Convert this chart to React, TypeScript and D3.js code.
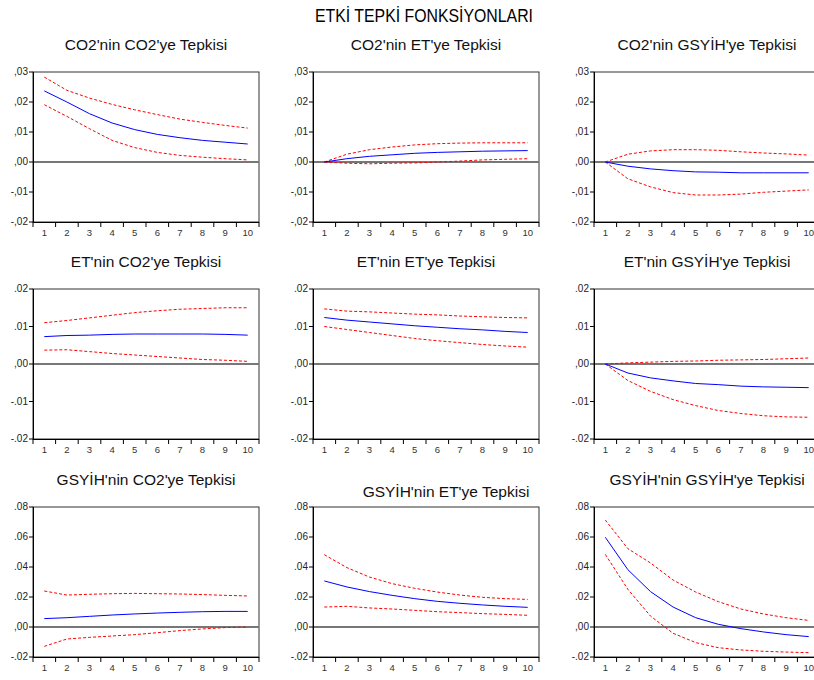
import React from 'react';
import * as d3 from 'd3';

// periods on the x axis
const periods = [1, 2, 3, 4, 5, 6, 7, 8, 9, 10];

// row 1: CO2 responses
const co2Co2Resp = [0.0237, 0.0200, 0.0161, 0.0130, 0.0108, 0.0092, 0.0081, 0.0072, 0.0066, 0.0060];
const co2Co2Upper = [0.0283, 0.0239, 0.0213, 0.0192, 0.0174, 0.0158, 0.0143, 0.0132, 0.0122, 0.0113];
const co2Co2Lower = [0.0191, 0.0152, 0.0111, 0.0072, 0.0048, 0.0032, 0.0022, 0.0016, 0.0011, 0.0007];

const co2EtResp = [0.0000, 0.0011, 0.0019, 0.0024, 0.0029, 0.0032, 0.0034, 0.0036, 0.0037, 0.0038];
const co2EtUpper = [0.0000, 0.0026, 0.0041, 0.0050, 0.0057, 0.0061, 0.0063, 0.0064, 0.0064, 0.0064];
const co2EtLower = [0.0000, -0.0004, -0.0006, -0.0004, -0.0003, 0.0000, 0.0003, 0.0007, 0.0009, 0.0011];

const co2GdpResp = [0.0000, -0.0014, -0.0023, -0.0029, -0.0033, -0.0034, -0.0036, -0.0036, -0.0036, -0.0036];
const co2GdpUpper = [0.0000, 0.0026, 0.0037, 0.0041, 0.0041, 0.0039, 0.0034, 0.0030, 0.0027, 0.0023];
const co2GdpLower = [0.0000, -0.0056, -0.0083, -0.0102, -0.0110, -0.0110, -0.0107, -0.0101, -0.0097, -0.0093];

// row 2: ET responses
const etCo2Resp = [0.0073, 0.0076, 0.0077, 0.0079, 0.0080, 0.0080, 0.0080, 0.0080, 0.0079, 0.0077];
const etCo2Upper = [0.0110, 0.0116, 0.0123, 0.0130, 0.0137, 0.0142, 0.0146, 0.0148, 0.0150, 0.0150];
const etCo2Lower = [0.0037, 0.0038, 0.0033, 0.0028, 0.0024, 0.0020, 0.0016, 0.0012, 0.0010, 0.0007];

const etEtResp = [0.0124, 0.0117, 0.0112, 0.0107, 0.0102, 0.0098, 0.0094, 0.0091, 0.0087, 0.0084];
const etEtUpper = [0.0147, 0.0141, 0.0139, 0.0136, 0.0133, 0.0131, 0.0128, 0.0126, 0.0124, 0.0123];
const etEtLower = [0.0100, 0.0092, 0.0084, 0.0076, 0.0068, 0.0062, 0.0057, 0.0052, 0.0048, 0.0045];

const etGdpResp = [0.0000, -0.0024, -0.0037, -0.0045, -0.0052, -0.0055, -0.0059, -0.0061, -0.0062, -0.0063];
const etGdpUpper = [0.0000, 0.0003, 0.0005, 0.0007, 0.0008, 0.0010, 0.0011, 0.0012, 0.0014, 0.0016];
const etGdpLower = [0.0000, -0.0044, -0.0073, -0.0095, -0.0111, -0.0124, -0.0132, -0.0138, -0.0141, -0.0142];

// row 3: GSYİH responses
const gdpCo2Resp = [0.0056, 0.0062, 0.0071, 0.0080, 0.0087, 0.0093, 0.0098, 0.0102, 0.0104, 0.0104];
const gdpCo2Upper = [0.0240, 0.0213, 0.0218, 0.0222, 0.0224, 0.0222, 0.0220, 0.0216, 0.0211, 0.0207];
const gdpCo2Lower = [-0.0129, -0.0080, -0.0069, -0.0060, -0.0051, -0.0038, -0.0024, -0.0013, -0.0004, 0.0000];

const gdpEtResp = [0.0307, 0.0267, 0.0236, 0.0211, 0.0189, 0.0171, 0.0158, 0.0147, 0.0138, 0.0131];
const gdpEtUpper = [0.0482, 0.0396, 0.0333, 0.0289, 0.0258, 0.0233, 0.0213, 0.0198, 0.0189, 0.0184];
const gdpEtLower = [0.0133, 0.0138, 0.0127, 0.0120, 0.0111, 0.0102, 0.0096, 0.0089, 0.0084, 0.0078];

const gdpGdpResp = [0.0598, 0.0382, 0.0236, 0.0133, 0.0062, 0.0018, -0.0011, -0.0033, -0.0051, -0.0064];
const gdpGdpUpper = [0.0713, 0.0522, 0.0427, 0.0313, 0.0233, 0.0169, 0.0120, 0.0087, 0.0062, 0.0044];
const gdpGdpLower = [0.0484, 0.0251, 0.0073, -0.0042, -0.0104, -0.0138, -0.0153, -0.0162, -0.0167, -0.0171];

// y ticks per row
const row1Ticks = [0.03, 0.02, 0.01, 0, -0.01, -0.02];
const row1TickLabels = [',03', ',02', ',01', ',00', '-,01', '-,02'];
const row2Ticks = [0.02, 0.01, 0, -0.01, -0.02];
const row2TickLabels = ['.02', '.01', ',00', '-.01', '-.02'];
const row3Ticks = [0.08, 0.06, 0.04, 0.02, 0, -0.02];
const row3TickLabels = ['.08', '.06', '.04', '.02', ',00', '-.02'];

const titles = [
  "CO2'nin CO2'ye Tepkisi", "CO2'nin ET'ye Tepkisi", "CO2'nin GSYİH'ye Tepkisi",
  "ET'nin CO2'ye Tepkisi", "ET'nin ET'ye Tepkisi", "ET'nin GSYİH'ye Tepkisi",
  "GSYİH'nin CO2'ye Tepkisi", "GSYİH'nin ET'ye Tepkisi", "GSYİH'nin GSYİH'ye Tepkisi",
];

const rows = [
  { ticks: row1Ticks, labels: row1TickLabels, domain: [-0.02, 0.03] },
  { ticks: row2Ticks, labels: row2TickLabels, domain: [-0.02, 0.02] },
  { ticks: row3Ticks, labels: row3TickLabels, domain: [-0.02, 0.08] },
];

const series = [
  [co2Co2Resp, co2Co2Upper, co2Co2Lower],
  [co2EtResp, co2EtUpper, co2EtLower],
  [co2GdpResp, co2GdpUpper, co2GdpLower],
  [etCo2Resp, etCo2Upper, etCo2Lower],
  [etEtResp, etEtUpper, etEtLower],
  [etGdpResp, etGdpUpper, etGdpLower],
  [gdpCo2Resp, gdpCo2Upper, gdpCo2Lower],
  [gdpEtResp, gdpEtUpper, gdpEtLower],
  [gdpGdpResp, gdpGdpUpper, gdpGdpLower],
];

const W = 814;
const H = 680;
const colX = [33, 313, 594];
const rowY = [72, 289, 507];
const pw = 226;
const ph = 150;
const font = "'Liberation Sans', Arial, sans-serif";

const Panel = ({ idx }: { idx: number }) => {
  const r = Math.floor(idx / 3);
  const c = idx % 3;
  const left = colX[c];
  const top = rowY[r];
  const row = rows[r];
  const [resp, upper, lower] = series[idx];

  const x = d3.scaleBand<number>().domain(periods).range([0, pw]);
  const y = d3.scaleLinear().domain(row.domain).range([ph, 0]);
  const cx = (p: number) => (x(p) as number) + x.bandwidth() / 2;
  const line = d3.line<number>().x((_, i) => cx(periods[i])).y((v) => y(v));

  // GSYİH'nin ET'ye title sits lower and to the right in the original
  const tdx = idx === 7 ? 20 : 0;
  const tdy = idx === 7 ? 12 : 0;

  return (
    <g transform={`translate(${left},${top})`}>
      <text x={pw / 2 + tdx} y={-22 + tdy} textAnchor="middle" fontFamily={font} fontSize={15.5} fill="#111">
        {titles[idx]}
      </text>
      <rect x={0} y={0} width={pw} height={ph} fill="none" stroke="#333" strokeWidth={1} />
      <line x1={0} x2={pw} y1={y(0)} y2={y(0)} stroke="#777" strokeWidth={2} />
      <path d={line(upper) || ''} fill="none" stroke="#ff0000" strokeWidth={1} strokeDasharray="3,2" />
      <path d={line(lower) || ''} fill="none" stroke="#ff0000" strokeWidth={1} strokeDasharray="3,2" />
      <path d={line(resp) || ''} fill="none" stroke="#0000ff" strokeWidth={1} />
      {/* left axis */}
      <line x1={0.5} x2={0.5} y1={0} y2={ph} stroke="#000" />
      {row.ticks.map((t, i) => (
        <g key={t} transform={`translate(0,${y(t)})`}>
          <line x1={-4} x2={0} stroke="#000" />
          <text x={-5} dy="0.32em" textAnchor="end" fontFamily={font} fontSize={10} fill="#222">
            {row.labels[i]}
          </text>
        </g>
      ))}
      {/* bottom axis */}
      <line x1={0} x2={pw} y1={ph + 0.5} y2={ph + 0.5} stroke="#000" />
      {periods.map((p) => (
        <line key={'t' + p} x1={x(p)} x2={x(p)} y1={ph} y2={ph + 5} stroke="#000" />
      ))}
      <line x1={pw} x2={pw} y1={ph} y2={ph + 5} stroke="#000" />
      {periods.map((p) => (
        <text key={'l' + p} x={cx(p)} y={ph + 11} dy="0.32em" textAnchor="middle" fontFamily={font} fontSize={9.5} fill="#333">
          {p}
        </text>
      ))}
    </g>
  );
};

export default function App() {
  return (
    <svg width={W} height={H} style={{ position: 'absolute', left: 0, top: 0, background: '#fff' }}>
      <rect width={W} height={H} fill="#fff" />
      <text x={424} y={22} textAnchor="middle" fontFamily={font} fontSize={18} fill="#000"
        textLength={218} lengthAdjust="spacingAndGlyphs">
        ETKİ TEPKİ FONKSİYONLARI
      </text>
      {series.map((_, i) => (
        <Panel key={i} idx={i} />
      ))}
    </svg>
  );
}
